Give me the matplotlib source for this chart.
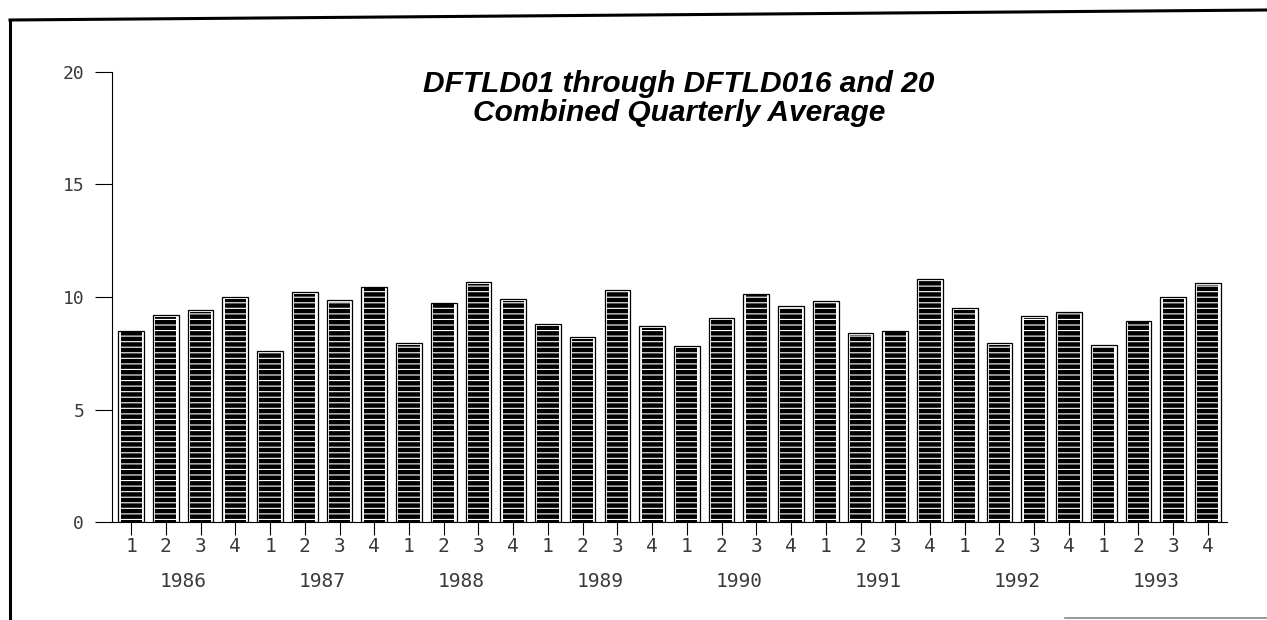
import matplotlib.pyplot as plt
from matplotlib.lines import Line2D
import numpy as np

# quarterly averages, 1986 Q1 .. 1993 Q4
years = ['1986', '1987', '1988', '1989', '1990', '1991', '1992', '1993']
quarters = ['1', '2', '3', '4']
values = [8.5, 9.2, 9.4, 10.0,
          7.6, 10.2, 9.85, 10.45,
          7.95, 9.75, 10.65, 9.9,
          8.8, 8.2, 10.3, 8.7,
          7.8, 9.05, 10.15, 9.6,
          9.8, 8.4, 8.5, 10.8,
          9.5, 7.95, 9.15, 9.35,
          7.85, 8.95, 10.0, 10.6]
y_ticks = [0, 5, 10, 15, 20]
title_1 = "DFTLD01 through DFTLD016 and 20"
title_2 = "Combined Quarterly Average"

plt.rcParams['hatch.linewidth'] = 0.8
tick_font = 'DejaVu Sans Mono'
tick_color = '#3a3a3a'

fig = plt.figure(figsize=(12.67, 6.2), dpi=100)
ax = fig.add_axes([0.0884, 0.158, 0.88, 0.726])

x = np.arange(len(values))
# outer outline, then the black striped body
ax.bar(x, values, width=0.74, color='white', edgecolor='black', linewidth=0.9, zorder=2)
ax.bar(x, np.array(values) - 0.07, width=0.61, color='black', edgecolor='white',
       hatch='---', linewidth=0, zorder=3)

ax.set_xlim(-0.55, len(values) - 0.45)
ax.set_ylim(0, 20)
ax.set_yticks(y_ticks)
ax.set_yticklabels([str(v) for v in y_ticks], fontfamily=tick_font, fontsize=13, color=tick_color)
ax.set_xticks(x)
ax.set_xticklabels(quarters * len(years), fontfamily=tick_font, fontsize=14, color=tick_color)
ax.tick_params(axis='y', direction='out', length=12, width=0.8, pad=8)
ax.tick_params(axis='x', direction='out', length=9, width=0.8, pad=2)

for s in ['top', 'right']:
    ax.spines[s].set_visible(False)
ax.spines['left'].set_linewidth(0.8)
ax.spines['bottom'].set_linewidth(0.8)

for i, yr in enumerate(years):
    ax.text(4 * i + 1.5, -0.131, yr, transform=ax.get_xaxis_transform(),
            ha='center', va='center', fontfamily=tick_font, fontsize=14, color=tick_color)

fig.text(0.536, 1 - 92 / 620, title_1, ha='center', va='baseline', fontsize=21.5,
         fontweight='bold', fontstyle='italic', fontfamily='Liberation Sans')
fig.text(0.536, 1 - 121 / 620, title_2, ha='center', va='baseline', fontsize=21.5,
         fontweight='bold', fontstyle='italic', fontfamily='Liberation Sans')

# scanned page frame
fig.add_artist(Line2D([10 / 1267, 10 / 1267], [0, 1 - 20 / 620], color='black', lw=2.2,
                      transform=fig.transFigure))
fig.add_artist(Line2D([10 / 1267, 1], [1 - 20 / 620, 1 - 10 / 620], color='black', lw=2.2,
                      transform=fig.transFigure))
fig.add_artist(Line2D([1065 / 1267, 1], [2 / 620, 2 / 620], color='#888888', lw=1.2,
                      transform=fig.transFigure))

fig.savefig('out.png', dpi=100)
